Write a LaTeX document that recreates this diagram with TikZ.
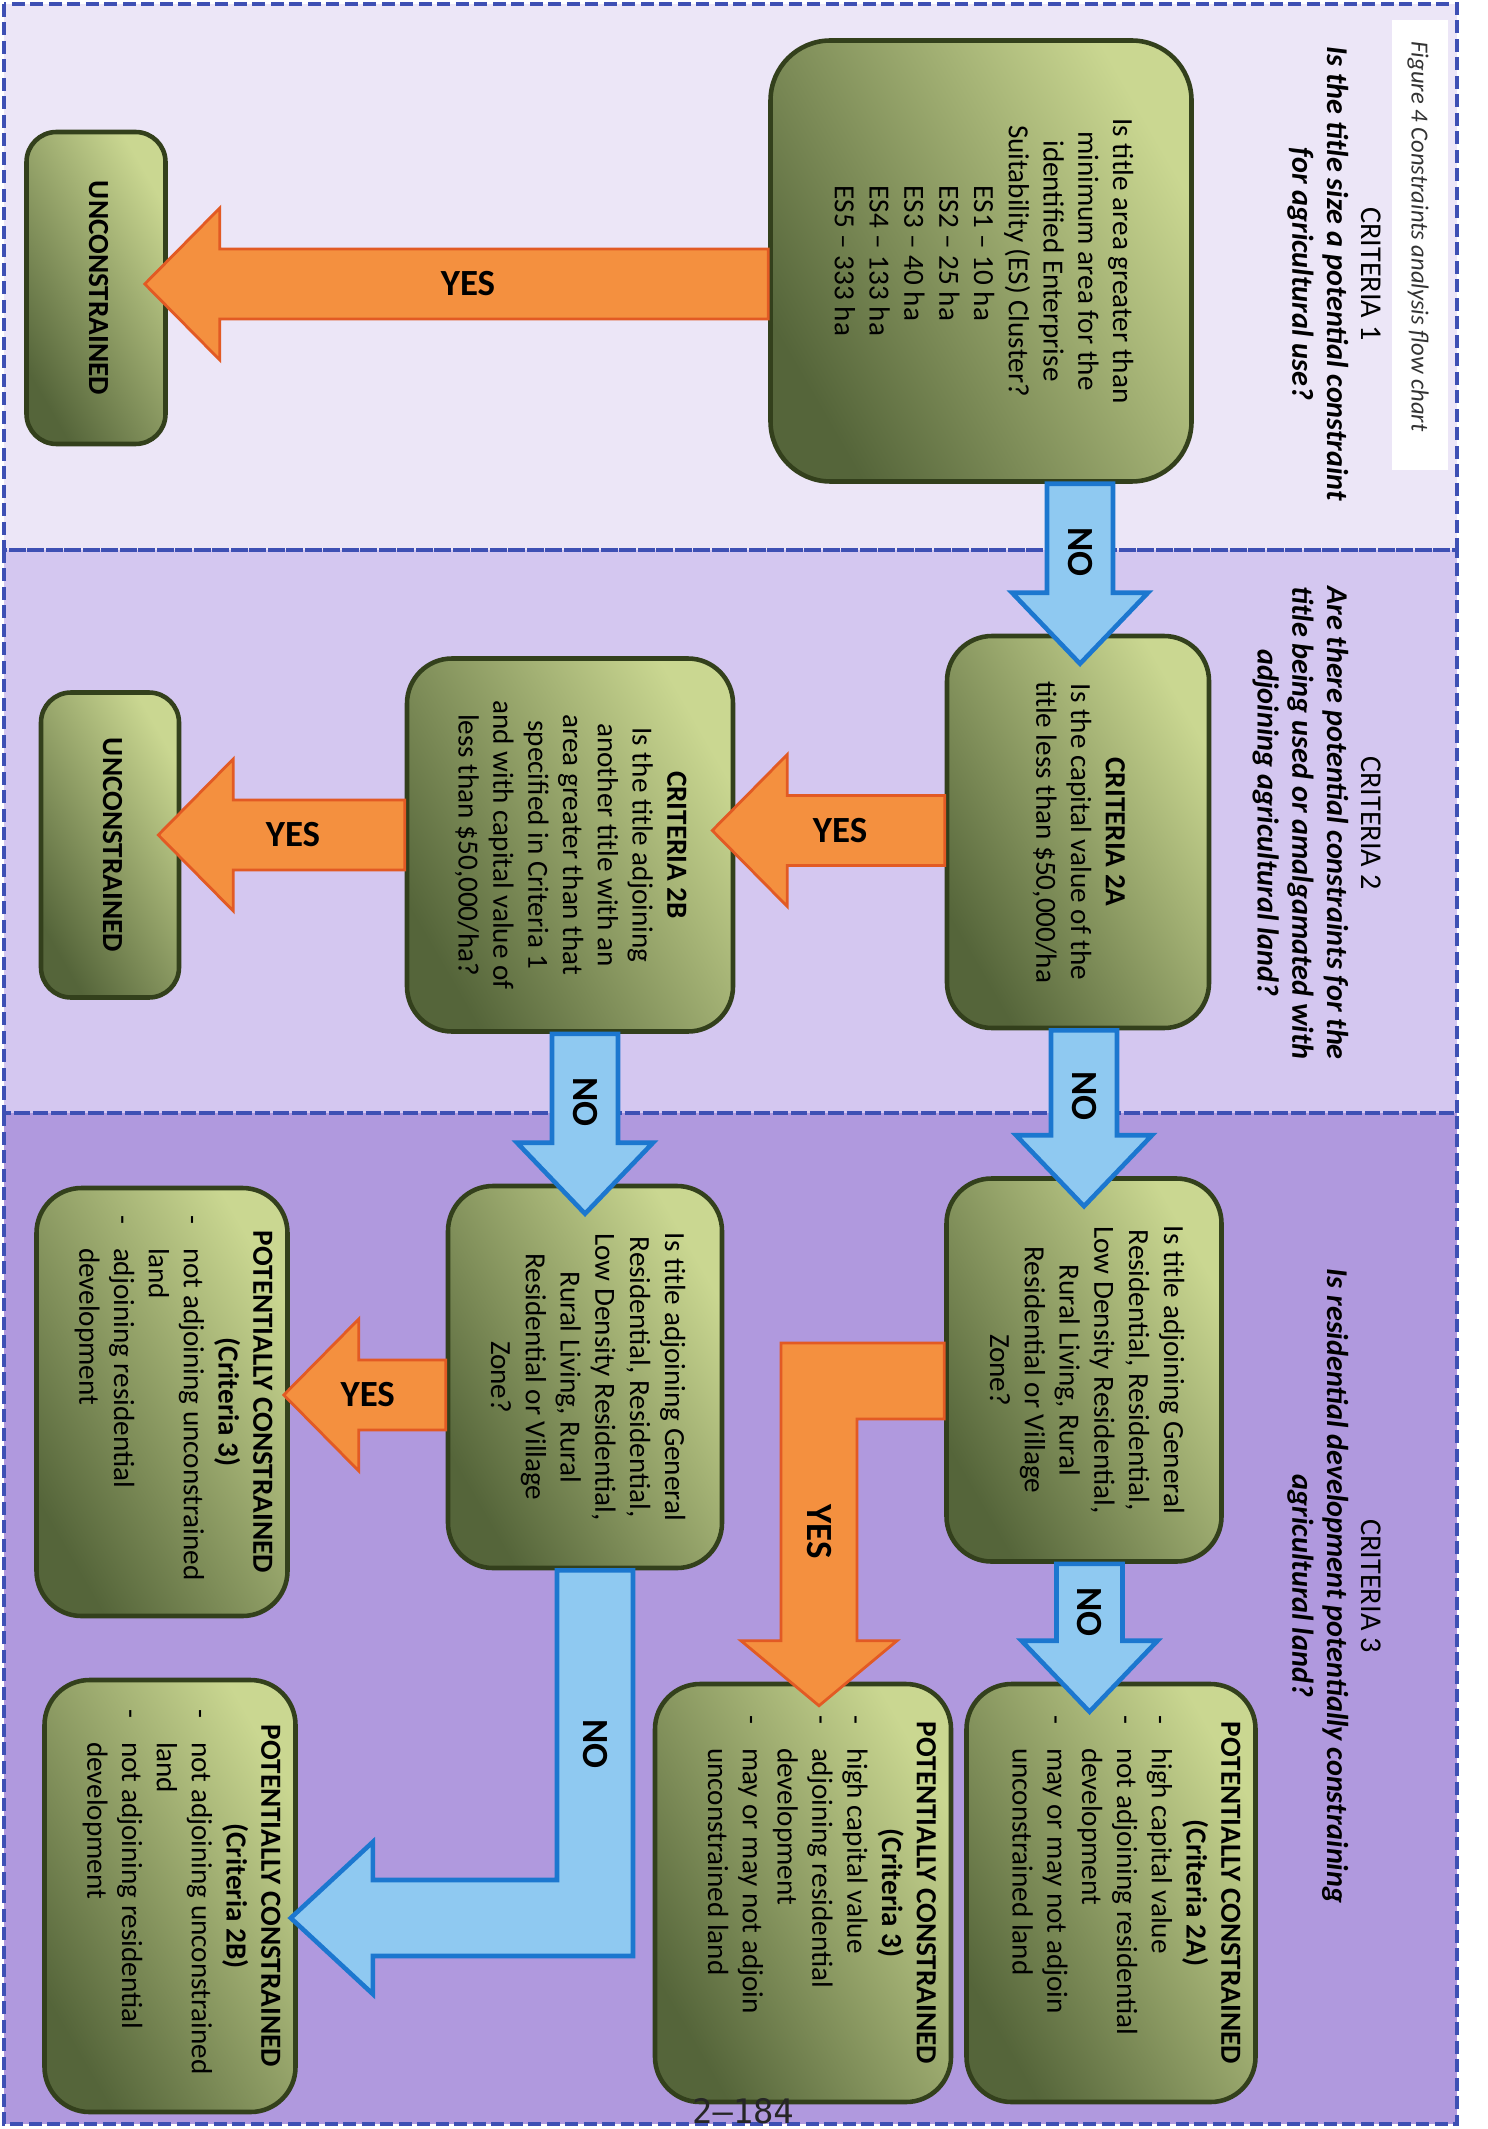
\documentclass[tikz,border=0pt]{standalone}
\usepackage{fontspec}
\setmainfont{Carlito}
\newfontfamily\pagenumfont{DejaVu Sans Mono}
\usepackage{graphicx}
\usepackage{tikz}
\usetikzlibrary{calc}
\definecolor{bandone}{HTML}{ECE6F7}
\definecolor{bandtwo}{HTML}{D4C7F0}
\definecolor{bandthree}{HTML}{B099DE}
\definecolor{frameblue}{HTML}{3E50B4}
\definecolor{boxdark}{HTML}{55653A}
\definecolor{boxlight}{HTML}{CAD791}
\definecolor{boxedge}{HTML}{33401C}
\definecolor{yesfill}{HTML}{F4903F}
\definecolor{yesedge}{HTML}{E25A24}
\definecolor{nofill}{HTML}{8FC9F1}
\definecolor{noedge}{HTML}{1C77CF}
\definecolor{capgray}{HTML}{333333}
\newcommand{\boxfont}{\fontsize{8.3}{9.9}\selectfont}
\newcommand{\headfont}{\fontsize{8.6}{9.9}\selectfont}
\newcommand{\labelfont}{\fontsize{10.5}{12}\selectfont\bfseries}
\newcommand{\capfont}{\fontsize{7}{8}\selectfont\itshape}
\newcommand{\vtext}[1]{\rotatebox{-90}{\begin{tabular}{@{}c@{}}#1\end{tabular}}}
\newcommand{\vpar}[3]{\rotatebox{-90}{\parbox[c][#1][t]{#2}{\boxfont\raggedright#3}}}
\newcommand{\pctitle}[1]{{\centering\textbf{POTENTIALLY CONSTRAINED}\\\textbf{(#1)}\par}}
\newcommand{\dashitem}[1]{\par\noindent\hangindent=3.3mm\hangafter=1\makebox[3.3mm][l]{-}#1}
\newcommand{\leftblock}[6]{%
  \draw[#1] let \p1=(#2.west), \p2=([yshift=#4]#3.east) in
    ({\x2-#5},\y2) -- ++(7.5mm,7.6mm) -- ++(0mm,-4.1mm) -- (\x1,{\y2+3.5mm})
    -- (\x1,{\y2-3.5mm}) -- ({\x2-#5+7.5mm},{\y2-3.5mm}) -- ++(0mm,-4.1mm) -- cycle
    ({(\x1+\x2)/2},\y2) node[flowlabel]{#6};}
\newcommand{\downblock}[5]{%
  \draw[#1] let \p1=(#2.south), \p2=([xshift=#4]#3.north) in
    (\x2,{\y2-3mm}) -- ++(6.8mm,7.1mm) -- ++(-3.5mm,0mm) -- ({\x2+3.3mm},\y1)
    -- ({\x2-3.3mm},\y1) -- ({\x2-3.3mm},{\y2+4.1mm}) -- ++(-3.5mm,0mm) -- cycle
    (\x2,{0.38*\y1+0.62*\y2+2.5mm}) node[flowlabel,rotate=-90]{#5};}
\tikzset{band/.style={draw=frameblue,line width=1.1pt,dash pattern=on 1.3mm off 0.55mm},
  critbox/.style={draw=boxedge,line width=1.3pt,rounded corners=4.5mm,inner sep=0pt,
    top color=boxlight,bottom color=boxdark,shading angle=-60,font=\boxfont},
  header/.style={anchor=east,inner sep=0pt,font=\headfont},
  flowlabel/.style={inner sep=0pt,font=\labelfont},
  yesarr/.style={draw=yesedge,fill=yesfill,line width=0.8pt},
  noarr/.style={draw=noedge,fill=nofill,line width=1.3pt}}

\begin{document}
\begin{tikzpicture}[x=0.1mm,y=-0.1mm]
\useasboundingbox (0,0) rectangle (1487,2129);
\fill[white] (0,0) rectangle (1487,2129);
\fill[bandone] (4,4) rectangle (1457,550);
\fill[bandtwo] (4,550) rectangle (1457,1113);
\fill[bandthree] (4,1113) rectangle (1457,2124);
\draw[band] (4,4) rectangle (1457,550);
\draw[band] (4,550) rectangle (1457,1113);
\draw[band] (4,1113) rectangle (1457,2124);
\fill[white] (1392,20) rectangle (1448,470);
\node[anchor=north,inner sep=0pt,font=\capfont,text=capgray] (cap) at (1418,41) {\rotatebox{-90}{Figure 4 Constraints analysis flow chart}};
\node[header] (h1) at (1387,274) {\vtext{CRITERIA 1\\\textbf{\textit{Is the title size a potential constraint}}\\\textbf{\textit{for agricultural use?}}}};
\node[header] (h2) at (1387,823) {\vtext{CRITERIA 2\\\textbf{\textit{Are there potential constraints for the}}\\\textbf{\textit{title being used or amalgamated with}}\\\textbf{\textit{adjoining agricultural land?}}}};
\node[header] (h3) at (1387,1586) {\vtext{CRITERIA 3\\\textbf{\textit{Is residential development potentially constraining}}\\\textbf{\textit{agricultural land?}}}};

\node[critbox,minimum width=4.21cm,minimum height=4.41cm,rounded corners=6mm] (c1) at (981,261) {\vtext{Is title area greater than\\minimum area for the\\identified Enterprise\\Suitability (ES) Cluster?\\\begin{tabular}{@{}l@{}}ES1 – 10 ha\\ES2 – 25 ha\\ES3 – 40 ha\\ES4 – 133 ha\\ES5 – 333 ha\end{tabular}}};
\node[critbox,minimum width=1.39cm,minimum height=3.12cm,rounded corners=3mm] (u1) at (96,288) {\vtext{\textbf{UNCONSTRAINED}}};
\node[critbox,minimum width=2.62cm,minimum height=3.92cm] (c2a) at (1078,832) {\vtext{\textbf{CRITERIA 2A}\\Is the capital value of the\\title less than \$50,000/ha}};
\node[critbox,minimum width=3.26cm,minimum height=3.73cm] (c2b) at (570,845) {\vtext{\textbf{CRITERIA 2B}\\Is the title adjoining\\another title with an\\area greater than that\\specified in Criteria 1\\and with capital value of\\less than \$50,000/ha?}};
\node[critbox,minimum width=1.38cm,minimum height=3.05cm,rounded corners=3mm] (u2) at (110,845) {\vtext{\textbf{UNCONSTRAINED}}};
\node[critbox,minimum width=2.75cm,minimum height=3.83cm] (c3a) at (1084,1370) {\vtext{Is title adjoining General\\Residential, Residential,\\Low Density Residential,\\Rural Living, Rural\\Residential or Village\\Zone?}};
\node[critbox,minimum width=2.74cm,minimum height=3.82cm] (c3b) at (585,1377) {\vtext{Is title adjoining General\\Residential, Residential,\\Low Density Residential,\\Rural Living, Rural\\Residential or Village\\Zone?}};
\node[critbox,minimum width=2.89cm,minimum height=4.18cm] (pc2a) at (1111,1893) {\vpar{2.59cm}{3.56cm}{\pctitle{Criteria 2A}\dashitem{high capital value}\dashitem{not adjoining residential\newline development}\dashitem{may or may not adjoin\newline unconstrained land}}};
\node[critbox,minimum width=2.96cm,minimum height=4.18cm] (pc3m) at (803,1893) {\vpar{2.66cm}{3.56cm}{\pctitle{Criteria 3}\dashitem{high capital value}\dashitem{adjoining residential\newline development}\dashitem{may or may not adjoin\newline unconstrained land}}};
\node[critbox,minimum width=2.51cm,minimum height=4.28cm] (pc3l) at (162,1402) {\vpar{2.21cm}{3.74cm}{\pctitle{Criteria 3}\dashitem{not adjoining unconstrained\newline land}\dashitem{adjoining residential\newline development}}};
\node[critbox,minimum width=2.51cm,minimum height=4.32cm] (pc2b) at (170,1896) {\vpar{2.21cm}{3.74cm}{\pctitle{Criteria 2B}\dashitem{not adjoining unconstrained\newline land}\dashitem{not adjoining residential\newline development}}};

\leftblock{yesarr}{c1}{u1}{0.4mm}{2.3mm}{YES}
\downblock{noarr}{c1}{c2a}{0.2mm}{NO}
\leftblock{yesarr}{c2a}{c2b}{1.45mm}{2.3mm}{YES}
\leftblock{yesarr}{c2b}{u2}{1mm}{2.3mm}{YES}
\downblock{noarr}{c2a}{c3a}{0mm}{NO}
\downblock{noarr}{c2b}{c3b}{0mm}{NO}
\downblock{noarr}{c3a}{pc2a}{-2.15mm}{NO}
\leftblock{yesarr}{c3b}{pc3l}{0.7mm}{0.6mm}{YES}
\draw[yesarr] let \p1=([yshift=-1.1mm]c3a.west), \p2=([xshift=1.6mm]pc3m.north) in
  (\x2,{\y2-2.4mm}) -- ++(7.8mm,6.5mm) -- ++(-4mm,0mm) -- ({\x2+3.8mm},{\y1-3.8mm})
  -- (\x1,{\y1-3.8mm}) -- (\x1,{\y1+3.8mm}) -- ({\x2-3.8mm},{\y1+3.8mm})
  -- ({\x2-3.8mm},{\y2+4.1mm}) -- ++(-4mm,0mm) -- cycle
  (\x2,{(\y1+\y2)/2}) node[flowlabel,rotate=-90]{YES};
\draw[noarr] let \p1=([xshift=1mm]c3b.south), \p2=([yshift=-2.2mm]pc2b.east) in
  ({\x2-0.7mm},\y2) -- ++(8.2mm,7.6mm) -- ++(0mm,-3.8mm) -- ({\x1-3.8mm},{\y2+3.8mm})
  -- ({\x1-3.8mm},\y1) -- ({\x1+3.8mm},\y1) -- ({\x1+3.8mm},{\y2-3.8mm})
  -- ({\x2+7.5mm},{\y2-3.8mm}) -- ++(0mm,-3.8mm) -- cycle
  (\x1,{(\y1+\y2)/2}) node[flowlabel,rotate=-90]{NO};
\node[inner sep=0pt,font=\pagenumfont\fontsize{9.6}{11}\selectfont,text=black!85] (pg) at (743,2111) {2–184};
\end{tikzpicture}
\end{document}
